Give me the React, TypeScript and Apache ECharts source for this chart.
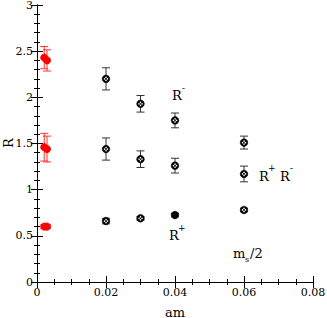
import React, { useEffect, useRef } from "react";
import * as echarts from "echarts";

const xBlack = [0.02, 0.03, 0.04, 0.06];
const rMinus = [2.2, 1.93, 1.75, 1.51];
const rMinusErr = [0.12, 0.09, 0.08, 0.07];
const rPM = [1.44, 1.33, 1.26, 1.17];
const rPMErr = [0.12, 0.09, 0.08, 0.085];
const rPlus = [0.66, 0.69, 0.725, 0.78];
const rPlusErr = [0.03, 0.02, 0.02, 0.02];

const xRed = [0.0021, 0.0029];
const redMinus = [2.43, 2.4];
const redMinusErr = [0.12, 0.115];
const redPM = [1.46, 1.44];
const redPMErr = [0.15, 0.14];
const redPlus = [0.6, 0.6];
const redPlusErr = [0.02, 0.02];

const xTicks = [0, 0.02, 0.04, 0.06, 0.08];
const yTicks = [0, 0.5, 1, 1.5, 2, 2.5, 3];

function build(xs: number[], ys: number[], es: number[]) {
  return xs.map((x, i) => [x, ys[i], ys[i] - es[i], ys[i] + es[i]]);
}

const blackData = [
  ...build(xBlack, rMinus, rMinusErr),
  ...build(xBlack, rPM, rPMErr),
  ...build(xBlack, rPlus, rPlusErr),
];
const redData = [
  ...build(xRed, redMinus, redMinusErr),
  ...build(xRed, redPM, redPMErr),
  ...build(xRed, redPlus, redPlusErr),
];

function makeRender(kind: "black" | "red") {
  return (params: any, api: any) => {
    const x = api.value(0);
    const c = api.coord([x, api.value(1)]);
    const lo = api.coord([x, api.value(2)]);
    const hi = api.coord([x, api.value(3)]);
    const capW = 4;
    const barColor = kind === "red" ? "#ff3030" : "#333";
    const children: any[] = [
      { type: "line", shape: { x1: c[0], y1: lo[1], x2: c[0], y2: hi[1] }, style: { stroke: barColor, lineWidth: 1 } },
      { type: "line", shape: { x1: c[0] - capW, y1: lo[1], x2: c[0] + capW, y2: lo[1] }, style: { stroke: barColor, lineWidth: 1 } },
      { type: "line", shape: { x1: c[0] - capW, y1: hi[1], x2: c[0] + capW, y2: hi[1] }, style: { stroke: barColor, lineWidth: 1 } },
    ];
    if (kind === "red") {
      children.push({ type: "circle", shape: { cx: c[0], cy: c[1], r: 3.6 }, style: { fill: "#ff0000", stroke: "#ff0000", lineWidth: 0.8 } });
    } else {
      const d = 1.5;
      children.push({ type: "circle", shape: { cx: c[0], cy: c[1], r: 3.8 }, style: { fill: "#000", stroke: "#000", lineWidth: 0.6 } });
      [[d, 0], [-d, 0], [0, d], [0, -d]].forEach(([dx, dy]) => {
        children.push({ type: "circle", shape: { cx: c[0] + dx, cy: c[1] + dy, r: 0.75 }, style: { fill: "#fff" } });
      });
    }
    return { type: "group", children };
  };
}

const font = "DejaVu Serif";

function txt(x: number, y: number, text: string, size: number, extra: any = {}) {
  return {
    type: "text", x, y, ...extra,
    style: { text, fontFamily: font, fontSize: size, fill: "#000", verticalAlign: "middle", align: "left", ...(extra.style || {}) },
  };
}

export default function App() {
  const ref = useRef<HTMLDivElement>(null);
  useEffect(() => {
    document.body.style.margin = "0";
    const chart = echarts.init(ref.current!, null, { renderer: "svg" });
    const axisCommon = {
      axisLine: { show: true, lineStyle: { color: "#000", width: 1 } },
      splitLine: { show: false },
      axisTick: { show: true, inside: true, length: 6, lineStyle: { color: "#000" } },
    };
    chart.setOption({
      animation: false,
      backgroundColor: "#fff",
      textStyle: { fontFamily: font },
      grid: { left: 37, right: 14, top: 5, bottom: 36, containLabel: false, outerBoundsMode: "none" },
      xAxis: [
        {
          type: "value", min: 0, max: 0.08, interval: 0.02, position: "bottom",
          axisLabel: { fontFamily: font, fontSize: 11, color: "#000", margin: 5,
            formatter: (v: number) => { const t = xTicks.find((k) => Math.abs(k - v) < 1e-9); return t === undefined ? "" : String(t); } },
          minorTick: { show: true, splitNumber: 4, length: 3, lineStyle: { color: "#000" } },
          ...axisCommon,
        },
        {
          type: "value", min: 0, max: 0.08, interval: 0.02, position: "top",
          axisLabel: { show: false },
          minorTick: { show: true, splitNumber: 4, length: 3, lineStyle: { color: "#000" } },
          ...axisCommon,
        },
      ],
      yAxis: [
        {
          type: "value", min: 0, max: 3, interval: 0.5, position: "left",
          axisLabel: { fontFamily: font, fontSize: 11, color: "#000", margin: 4,
            formatter: (v: number) => { const t = yTicks.find((k) => Math.abs(k - v) < 1e-9); return t === undefined ? "" : String(t); } },
          minorTick: { show: true, splitNumber: 5, length: 3, lineStyle: { color: "#000" } },
          ...axisCommon,
        },
        {
          type: "value", min: 0, max: 3, interval: 0.5, position: "right",
          axisLabel: { show: false },
          minorTick: { show: true, splitNumber: 5, length: 3, lineStyle: { color: "#000" } },
          ...axisCommon,
        },
      ],
      series: [
        { type: "custom", xAxisIndex: 0, yAxisIndex: 0, data: redData, renderItem: makeRender("red"), encode: { x: 0, y: [1, 2, 3] }, clip: false },
        { type: "custom", xAxisIndex: 0, yAxisIndex: 0, data: blackData, renderItem: makeRender("black"), encode: { x: 0, y: [1, 2, 3] }, clip: false },
      ],
      graphic: [
        txt(8, 143, "R", 13, { rotation: Math.PI / 2, style: { align: "center" } }),
        txt(175, 312, "am", 13, { style: { align: "center" } }),
        txt(172, 95, "R", 13),
        txt(182, 88, "-", 9),
        txt(259, 176, "R", 13),
        txt(268, 168, "+", 9),
        txt(280, 176, "R", 13),
        txt(290, 168, "-", 9),
        txt(169, 235, "R", 13),
        txt(178, 228, "+", 9),
        txt(233, 253, "m", 13),
        txt(245, 259, "s", 8),
        txt(250, 253, "/2", 13),
      ],
    });
    return () => chart.dispose();
  }, []);
  return <div ref={ref} style={{ width: 327, height: 318, position: "absolute", left: 0, top: 0 }} />;
}
